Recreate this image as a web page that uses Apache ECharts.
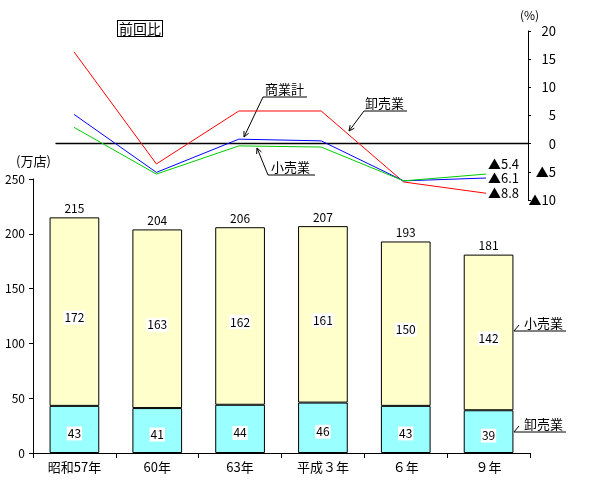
<!DOCTYPE html>
<html><head><meta charset="utf-8">
<script src="https://cdn.jsdelivr.net/npm/echarts@6/dist/echarts.min.js"></script>
<style>html,body{margin:0;padding:0;background:#fff}#c{width:600px;height:480px}</style>
</head><body><div id="c"></div>
<script>
// ---- data ----
const categories = ['昭和57年', '60年', '63年', '平成３年', '６年', '９年'];
const wholesaleStores = [43, 41, 44, 46, 43, 39];
const retailStores = [172, 163, 162, 161, 150, 142];
const totalStores = [215, 204, 206, 207, 193, 181];
const wholesaleChange = [16.3, -3.6, 5.8, 5.8, -6.8, -8.8];
const commerceChange = [5.2, -5.1, 0.8, 0.5, -6.6, -6.1];
const retailChange = [2.9, -5.4, -0.4, -0.6, -6.6, -5.4];
const storeTicks = { min: 0, max: 250, interval: 50 };
const pctTicks = { min: -10, max: 20, interval: 5 };

const FONT = '"Noto Sans CJK JP", "Noto Sans", sans-serif';
const pairs = arr => arr.map((v, i) => [i, v]);
const tri = v => v < 0 ? '▲' + (-v) : String(v);

function arrow(x1, y1, x2, y2) {
  const dx = x2 - x1, dy = y2 - y1, L = Math.hypot(dx, dy);
  const ux = dx / L, uy = dy / L, h = 6, a = 0.45;
  const c = Math.cos(a), s = Math.sin(a);
  const b1 = [x2 - h * (ux * c - uy * s), y2 - h * (uy * c + ux * s)];
  const b2 = [x2 - h * (ux * c + uy * s), y2 - h * (uy * c - ux * s)];
  return [
    { type: 'line', shape: { x1, y1, x2, y2 }, style: { stroke: '#000', lineWidth: 1 } },
    { type: 'polyline', shape: { points: [b1, [x2, y2], b2] }, style: { stroke: '#000', lineWidth: 1, fill: null } }
  ];
}
function note(text, tx, ty, underline, leader) {
  let els = [
    { type: 'text', x: tx, y: ty, style: { text: text, font: '13px ' + FONT, fill: '#000', textVerticalAlign: 'middle' } },
    { type: 'polyline', shape: { points: underline }, style: { stroke: '#000', lineWidth: 1, fill: null } }
  ];
  if (leader) els = els.concat(arrow(leader[0], leader[1], leader[2], leader[3]));
  return els;
}

const chart = echarts.init(document.getElementById('c'));
const lineSeries = (name, data, color, off) => ({
  name, type: 'line', xAxisIndex: 1, yAxisIndex: 1, data: pairs(data),
  symbol: 'none', lineStyle: { color, width: 1 }, itemStyle: { color }, animation: false,
  endLabel: { show: true, distance: 2, offset: [0, off], color: '#000', fontFamily: FONT, fontSize: 13,
    formatter: p => tri(p.value[1]) }
});

chart.setOption({
  animation: false,
  textStyle: { fontFamily: FONT },
  grid: [
    { left: 33, right: 70, top: 179, height: 274 },
    { left: 56, right: 72, top: 31, height: 169 }
  ],
  xAxis: [
    { type: 'category', gridIndex: 0, data: categories,
      axisLine: { lineStyle: { color: '#000' } },
      axisTick: { show: true, length: 5, lineStyle: { color: '#000' } },
      axisLabel: { color: '#000', fontSize: 13, margin: 8, fontFamily: FONT } },
    { type: 'value', gridIndex: 1, min: -0.2184, max: 5.5097,
      axisLine: { show: true, onZero: true, lineStyle: { color: '#000', width: 1.3 } },
      axisTick: { show: false }, axisLabel: { show: false }, splitLine: { show: false } }
  ],
  yAxis: [
    { type: 'value', gridIndex: 0, min: storeTicks.min, max: storeTicks.max, interval: storeTicks.interval,
      axisLine: { show: true, lineStyle: { color: '#000' } },
      axisTick: { show: true, length: 4, lineStyle: { color: '#000' } },
      axisLabel: { color: '#000', fontSize: 12, margin: 8, fontFamily: FONT },
      splitLine: { show: false } },
    { type: 'value', gridIndex: 1, position: 'right', min: pctTicks.min, max: pctTicks.max, interval: pctTicks.interval,
      axisLine: { show: true, onZero: false, lineStyle: { color: '#000' } },
      axisTick: { show: true, inside: false, length: 3, lineStyle: { color: '#000' } },
      axisLabel: { color: '#000', fontSize: 13, margin: 28, align: 'right', fontFamily: FONT, formatter: tri },
      splitLine: { show: false } }
  ],
  series: [
    { name: '卸売業', type: 'bar', stack: 's', data: wholesaleStores, barWidth: '60%',
      itemStyle: { color: '#99FFFF', borderColor: '#000', borderWidth: 1 },
      label: { show: true, position: 'inside', color: '#000', fontSize: 12, backgroundColor: '#fff', padding: [1, 1], offset: [0, 4] } },
    { name: '小売業', type: 'bar', stack: 's', data: retailStores,
      itemStyle: { color: '#FFFFCC', borderColor: '#000', borderWidth: 1 },
      label: { show: true, position: 'inside', color: '#000', fontSize: 12, backgroundColor: '#fff', padding: [1, 1], offset: [0, 6] } },
    { name: '計', type: 'bar', stack: 's', data: totalStores.map(() => 0),
      itemStyle: { color: 'transparent', borderWidth: 0 },
      label: { show: true, position: 'top', distance: 3, color: '#000', fontSize: 12,
        formatter: p => totalStores[p.dataIndex] } },
    lineSeries('卸売業', wholesaleChange, '#FF0000', 0),
    lineSeries('商業計', commerceChange, '#0000FF', 0),
    lineSeries('小売業', retailChange, '#00CC00', -10)
  ],
  graphic: [
    { type: 'text', x: 118, y: 21, style: { text: '前回比', font: '14px ' + FONT, fill: '#000',
      borderColor: '#000', borderWidth: 1, padding: [1, 1, 0, 1], backgroundColor: '#fff' } },
    { type: 'text', x: 520, y: 9, style: { text: '(%)', font: '12px ' + FONT, fill: '#000' } },
    { type: 'text', x: 16, y: 155, style: { text: '(万店)', font: '13px ' + FONT, fill: '#000' } },
    ...note('商業計', 265, 89, [[263, 97], [307, 97]], [263, 97, 244, 137]),
    ...note('卸売業', 365, 103, [[364, 111], [407, 111]], [364, 111, 349, 131]),
    ...note('小売業', 271, 167, [[268, 175], [315, 175]], [268, 175, 257, 148]),
    ...note('小売業', 524, 323, [[519, 325], [514, 331], [566, 331]]),
    ...note('卸売業', 524, 424, [[519, 426], [514, 432], [566, 432]])
  ]
});
</script></body></html>
